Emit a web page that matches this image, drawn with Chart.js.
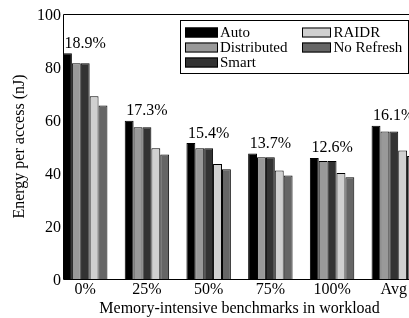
<!DOCTYPE html>
<html>
<head>
<meta charset="utf-8">
<script src="https://cdn.jsdelivr.net/npm/chart.js@4/dist/chart.umd.min.js"></script>
<style>
  html, body { margin: 0; padding: 0; background: #fff; }
  #wrap { width: 409px; height: 318px; overflow: hidden; position: relative; }
  canvas { display: block; }
</style>
</head>
<body>
<div id="wrap"><canvas id="c" width="420" height="318"></canvas></div>
<script>
const categories = ['0%', '25%', '50%', '75%', '100%', 'Avg'];
const autoRefresh = [85.2, 59.7, 51.3, 47.4, 45.7, 57.8];
const distributed = [81.4, 57.3, 49.3, 45.9, 44.5, 55.7];
const smart = [81.4, 57.3, 49.3, 45.9, 44.5, 55.7];
const raidr = [69.0, 49.3, 43.4, 40.9, 40.0, 48.5];
const noRefresh = [65.5, 47.0, 41.4, 39.1, 38.4, 46.4];
const reductionLabels = ['18.9%', '17.3%', '15.4%', '13.7%', '12.6%', '16.1%'];
const yTicks = [0, 20, 40, 60, 80, 100];

const FONT = '"Liberation Serif", "Times New Roman", serif';

function pts(arr) { return arr.map((v, i) => ({ x: i + 1, y: v })); }

const seriesDefs = [
  { label: 'Auto', data: autoRefresh, color: '#000000' },
  { label: 'Distributed', data: distributed, color: '#999999' },
  { label: 'Smart', data: smart, color: '#333333' },
  { label: 'RAIDR', data: raidr, color: '#d0d0d0' },
  { label: 'No Refresh', data: noRefresh, color: '#666666' }
];

const boxPlugin = {
  id: 'boxPlugin',
  afterDatasetsDraw(chart) {
    const ctx = chart.ctx;
    const a = chart.chartArea;
    const xs = chart.scales.x, ys = chart.scales.y;
    ctx.save();
    // percentage labels
    ctx.fillStyle = '#000';
    ctx.font = '16px ' + FONT;
    ctx.textAlign = 'center';
    ctx.textBaseline = 'alphabetic';
    reductionLabels.forEach((t, i) => {
      const x = xs.getPixelForValue(i + 1);
      const y = ys.getPixelForValue(autoRefresh[i]) - 5.5;
      ctx.fillText(t, x, y);
    });
    // plot box
    ctx.strokeStyle = '#000';
    ctx.lineWidth = 1;
    const l = Math.round(a.left) + 0.5, t = Math.round(a.top) + 0.5;
    const b = Math.round(a.bottom) + 0.5, r = Math.round(a.right) + 0.5;
    ctx.beginPath();
    ctx.moveTo(r, t); ctx.lineTo(l, t); ctx.lineTo(l, b); ctx.lineTo(r, b); ctx.lineTo(r, t);
    ctx.stroke();
    // legend
    const lx = 180.5, ly = 20.5, lw = 228, lh = 53;
    ctx.fillStyle = '#fff';
    ctx.fillRect(lx, ly, lw, lh);
    ctx.strokeRect(lx, ly, lw, lh);
    const ds = chart.data.datasets;
    const pos = [
      { sx: 185, w: 33, tx: 220, cy: 32.5 },
      { sx: 185, w: 33, tx: 220, cy: 47.5 },
      { sx: 185, w: 33, tx: 220, cy: 62.5 },
      { sx: 302, w: 29, tx: 333.5, cy: 32.5 },
      { sx: 302, w: 29, tx: 333.5, cy: 47.5 }
    ];
    ctx.font = '15px ' + FONT;
    ctx.textAlign = 'left';
    ctx.textBaseline = 'middle';
    ds.forEach((d, i) => {
      const p = pos[i];
      ctx.fillStyle = d.backgroundColor;
      ctx.fillRect(p.sx, p.cy - 5, p.w, 10);
      ctx.strokeStyle = '#000';
      ctx.strokeRect(p.sx + 0.5, p.cy - 4.5, p.w - 1, 9);
      ctx.fillStyle = '#000';
      ctx.fillText(d.label, p.tx, p.cy + 1);
    });
    ctx.restore();
  }
};

new Chart(document.getElementById('c'), {
  type: 'bar',
  data: {
    datasets: seriesDefs.map(s => ({
      label: s.label,
      data: pts(s.data),
      backgroundColor: s.color,
      borderColor: '#000',
      borderWidth: 1,
      borderSkipped: 'bottom',
      categoryPercentage: 0.72,
      barPercentage: 1.0
    }))
  },
  options: {
    responsive: false,
    animation: false,
    events: [],
    layout: { padding: { top: 14, right: 4, left: 0, bottom: 0 } },
    plugins: { legend: { display: false }, tooltip: { enabled: false } },
    scales: {
      x: {
        type: 'linear',
        offset: false,
        min: 0.64,
        max: 6.36,
        grid: { display: false, drawTicks: false, offset: false },
        border: { display: false },
        afterBuildTicks(scale) { scale.ticks = categories.map((c, i) => ({ value: i + 1 })); },
        afterFit(scale) { scale.height = 39; },
        ticks: {
          autoSkip: false,
          maxRotation: 0,
          padding: 3,
          color: '#000',
          font: { family: FONT, size: 16, lineHeight: 1 },
          callback: (v) => categories[Math.round(v) - 1]
        },
        title: {
          display: true,
          text: 'Memory-intensive benchmarks in workload',
          color: '#000',
          font: { family: FONT, size: 16, lineHeight: 1 },
          padding: { top: 0, bottom: 1 }
        }
      },
      y: {
        min: 0,
        max: 100,
        grid: { display: false, drawTicks: false },
        border: { display: false },
        afterBuildTicks(scale) { scale.ticks = yTicks.map(v => ({ value: v })); },
        afterFit(scale) { scale.width = 63; },
        ticks: {
          padding: 2,
          labelOffset: 1.5,
          color: '#000',
          font: { family: FONT, size: 16, lineHeight: 1 }
        },
        title: {
          display: true,
          text: 'Energy per access (nJ)',
          color: '#000',
          font: { family: FONT, size: 16, lineHeight: 1 },
          padding: { top: 12, bottom: 0 }
        }
      }
    }
  },
  plugins: [boxPlugin]
});
</script>
</body>
</html>
